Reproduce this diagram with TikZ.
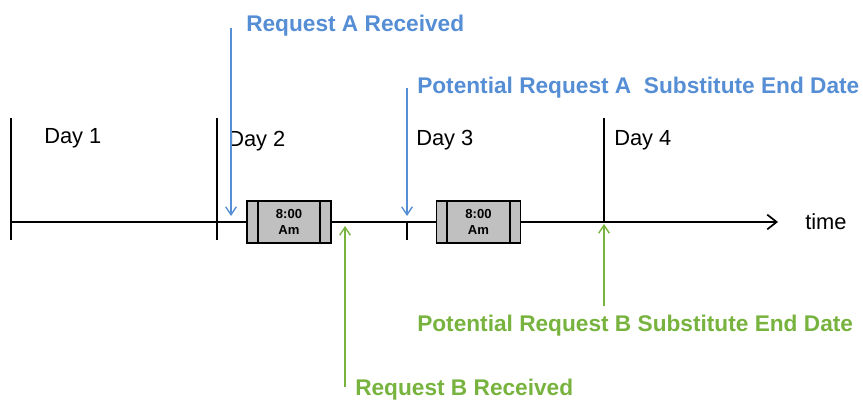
\documentclass[tikz,border=0pt]{standalone}
\usepackage{fontspec}
\setmainfont{Liberation Sans}
\usetikzlibrary{arrows.meta}

\definecolor{reqblue}{RGB}{85,142,213}
\definecolor{reqgreen}{RGB}{119,179,62}
\definecolor{slotgray}{RGB}{192,192,192}

\tikzset{
  axisline/.style={line width=1.3pt},
  bluearrow/.style={draw=reqblue,line width=1pt,-{Straight Barb[length=6pt,width=8pt]}},
  greenarrow/.style={draw=reqgreen,line width=1pt,-{Straight Barb[length=6pt,width=8pt]}},
  slotbox/.style={draw,line width=1.1pt,fill=slotgray,minimum width=63pt,minimum height=31.5pt,inner sep=0pt,align=center,font=\fontsize{9.8}{11.4}\selectfont\bfseries},
  daylabel/.style={anchor=base west,inner sep=0pt,font=\fontsize{16.4}{19}\selectfont},
  bluelabel/.style={anchor=base west,inner sep=0pt,text=reqblue,font=\fontsize{17}{19}\selectfont\bfseries},
  greenlabel/.style={anchor=base west,inner sep=0pt,text=reqgreen,font=\fontsize{17}{19}\selectfont\bfseries}
}

\begin{document}
\begin{tikzpicture}[x=0.75pt,y=0.75pt,yscale=-1,xscale=1]
\useasboundingbox (0,0) rectangle (863,400);

%Shape: Time axis
\coordinate (axisStart) at (11,222);
\coordinate (axisEnd) at (778,222);
\draw [axisline,-{Straight Barb[length=7pt,width=11pt]}] (axisStart) -- (axisEnd);

%Shape: Day ticks
\draw [axisline] (11,118) -- (11,240);
\draw [axisline] (217,118) -- (217,240);
\draw [axisline] (407,222) -- (407,240);
\draw [axisline] (604,118) -- (604,222);

%Shape: Slot boxes
\draw (289,222) node (slotA) [slotbox] {8:00\\Am};
\draw [line width=1.1pt] (258,201) -- (258,243) (320,201) -- (320,243);
\draw (478.5,222) node (slotB) [slotbox] {8:00\\Am};
\draw [line width=1.1pt] (447,201) -- (447,243) (510,201) -- (510,243);

% Text Node
\draw (44,143) node (dayOne) [daylabel] {Day 1};
% Text Node
\draw (228,146) node (dayTwo) [daylabel] {Day 2};
% Text Node
\draw (416,145) node (dayThree) [daylabel] {Day 3};
% Text Node
\draw (614,145) node (dayFour) [daylabel] {Day 4};
% Text Node
\draw (805,229) node (timeLabel) [daylabel] {time};

% Text Node
\draw (246,31) node (reqA) [bluelabel] {Request A Received};
% Text Node
\draw (417,93) node (potA) [bluelabel] {Potential Request A\ \ Substitute End Date};
% Text Node
\draw (417,331) node (potB) [greenlabel] {Potential Request B Substitute End Date};
% Text Node
\draw (355,395) node (reqB) [greenlabel] {Request B Received};

%Shape: Request arrows
\coordinate (reqAStart) at (231,28);
\coordinate (reqAEnd) at (231,216);
\draw [bluearrow] (reqAStart) -- (reqAEnd);
\coordinate (potAStart) at (407,88);
\coordinate (potAEnd) at (407,216);
\draw [bluearrow] (potAStart) -- (potAEnd);
\coordinate (reqBStart) at (345,387);
\coordinate (reqBEnd) at (345,226);
\draw [greenarrow] (reqBStart) -- (reqBEnd);
\coordinate (potBStart) at (604,306);
\coordinate (potBEnd) at (604,224);
\draw [greenarrow] (potBStart) -- (potBEnd);

\end{tikzpicture}
\end{document}
